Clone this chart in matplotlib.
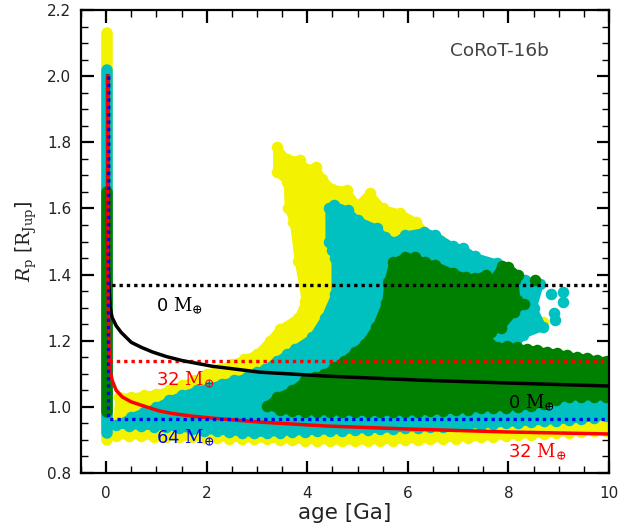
import matplotlib
matplotlib.use("Agg")
import matplotlib.pyplot as plt
from matplotlib.ticker import MultipleLocator

plt.rcParams["mathtext.fontset"] = "dejavuserif"

# **********************************************************************
#       DATA (age [Ga], radius [R_Jup])
# Young planets: vertical strip close to age zero
strip_age = 0.02
yellow_strip = [0.90, 2.13]
cyan_strip = [0.92, 2.02]
green_strip = [0.985, 1.65]

# Lower edge of the clouds
edge_age = [0.2, 0.45, 0.7, 0.95, 1.2, 1.45, 1.7, 1.95,
            2.2, 2.45, 2.7, 2.95, 3.2, 3.45, 3.7, 3.95,
            4.2, 4.45, 4.7, 4.95, 5.2, 5.45, 5.7, 5.95,
            6.2, 6.45, 6.7, 6.95, 7.2, 7.45, 7.7, 7.95,
            8.2, 8.45, 8.7, 8.95, 9.2, 9.45, 9.7, 9.95, 10.2]
yellow_low = [0.912, 0.912, 0.912, 0.910, 0.910, 0.908, 0.908, 0.906,
              0.906, 0.904, 0.904, 0.902, 0.902, 0.900, 0.900, 0.898,
              0.898, 0.896, 0.896, 0.896, 0.896, 0.898, 0.898, 0.900,
              0.900, 0.902, 0.904, 0.904, 0.906, 0.908, 0.910, 0.912,
              0.914, 0.916, 0.918, 0.920, 0.922, 0.924, 0.926, 0.928, 0.930]
cyan_low = [0.945, 0.942, 0.942, 0.940, 0.940, 0.935, 0.932, 0.928,
            0.926, 0.924, 0.922, 0.920, 0.920, 0.922, 0.924, 0.925,
            0.926, 0.927, 0.928, 0.930, 0.931, 0.932, 0.933, 0.935,
            0.936, 0.938, 0.940, 0.943, 0.945, 0.946, 0.948, 0.950,
            0.952, 0.954, 0.956, 0.958, 0.960, 0.963, 0.966, 0.972, 0.975]
green_low = [1.003, 0.990, 0.986, 0.985, 0.985, 0.985, 0.984, 0.984,
             0.983, 0.983, 0.984, 0.984, 0.985, 0.986, 0.988, 0.990,
             0.992, 0.996, 0.997, 0.998, 1.000, 1.002, 1.010, 1.020,
             1.030, 1.030, 1.030, 1.030, 1.030]

# Upper outline of the clouds, going back from 10 Ga to the young side
yellow_age = [10.2, 8.0, 8.0, 7.49, 7.05, 6.63, 6.4, 6.17, 5.84, 5.5, 5.24, 5.0, 4.78, 4.5, 4.3,
              4.18, 4.0, 3.85, 3.6, 3.39, 3.39, 3.6, 3.62, 3.72, 3.82, 3.96, 3.82, 3.45, 3.25,
              3.0, 2.75, 2.5, 2.25, 2.0, 1.75, 1.5, 1.25, 1.0, 0.75, 0.5, 0.25]
yellow_r = [1.05, 1.15, 1.37, 1.435, 1.47, 1.505, 1.52, 1.56, 1.586, 1.60, 1.647, 1.61, 1.655, 1.66, 1.69,
            1.725, 1.72, 1.746, 1.75, 1.786, 1.71, 1.68, 1.60, 1.56, 1.44, 1.32, 1.27, 1.235, 1.20,
            1.16, 1.145, 1.13, 1.115, 1.10, 1.08, 1.065, 1.05, 1.04, 1.035, 1.03, 1.03]
yellow_extra_age = [8.68]
yellow_extra_r = [1.257]

cyan_age = [10.2, 8.0, 8.29, 8.69, 8.5, 8.63, 8.33, 7.77, 7.33, 7.09, 6.9, 6.53, 6.33, 5.95, 5.74,
            5.54, 5.38, 5.0, 4.8, 4.54, 4.43, 4.43, 4.5, 4.55, 4.55, 4.35, 4.1, 3.75, 3.6,
            3.4, 3.15, 3.0, 2.8, 2.55, 2.3, 2.05, 1.8, 1.5, 1.25, 1.0, 0.75, 0.5]
cyan_r = [1.1, 1.15, 1.217, 1.24, 1.3, 1.37, 1.385, 1.435, 1.455, 1.48, 1.485, 1.52, 1.53, 1.52, 1.50,
          1.515, 1.54, 1.565, 1.595, 1.61, 1.60, 1.50, 1.475, 1.45, 1.34, 1.27, 1.21, 1.175, 1.16,
          1.14, 1.115, 1.105, 1.09, 1.08, 1.07, 1.06, 1.05, 1.035, 1.02, 1.00, 0.985, 0.97]
cyan_extra_age = [8.85, 9.08, 9.08, 8.9, 8.92]
cyan_extra_r = [1.341, 1.347, 1.317, 1.284, 1.262]

green_age = [10.2, 9.96, 9.76, 9.56, 9.36, 9.16, 8.96, 8.76, 8.57, 8.37, 8.17, 7.97, 7.77,
             7.57, 7.65, 7.85, 8.11, 8.31, 8.17, 8.13, 8.19, 8.0, 7.87, 7.69, 7.55, 7.33,
             7.15, 6.9, 6.53, 6.34, 6.14, 5.94, 5.7, 5.6, 5.56, 5.36, 5.14, 4.94, 4.74,
             4.54, 4.34, 4.15, 3.95, 3.7, 3.4]
green_r = [1.137, 1.139, 1.142, 1.148, 1.15, 1.157, 1.163, 1.166, 1.172, 1.175, 1.18, 1.184, 1.18,
           1.21, 1.226, 1.238, 1.286, 1.31, 1.323, 1.383, 1.40, 1.423, 1.426, 1.385, 1.40, 1.39,
           1.393, 1.405, 1.43, 1.437, 1.453, 1.453, 1.437, 1.377, 1.315, 1.24, 1.19, 1.166, 1.14,
           1.12, 1.10, 1.09, 1.08, 1.05, 1.03]
green_extra_age = [8.53]
green_extra_r = [1.383]

# Evolution tracks
track0_age = [0.03, 0.03, 0.05, 0.08, 0.12, 0.2, 0.3, 0.5, 0.7, 0.92, 1.2, 1.51,
              2.1, 3.05, 4.38, 6.2, 8.0, 10.0]
track0_r = [2.0, 1.5, 1.38, 1.30, 1.27, 1.245, 1.225, 1.195, 1.18, 1.166, 1.152, 1.14,
            1.123, 1.105, 1.093, 1.081, 1.072, 1.063]
track32_age = [0.03, 0.035, 0.05, 0.08, 0.12, 0.2, 0.32, 0.5, 0.8, 1.05, 1.31, 1.7,
               2.1, 3.05, 4.38, 6.0, 8.0, 10.0]
track32_r = [2.0, 1.4, 1.2, 1.11, 1.08, 1.05, 1.03, 1.015, 1.0, 0.988, 0.98, 0.972,
             0.966, 0.954, 0.942, 0.933, 0.924, 0.918]

# Measured radius levels, drawn dotted from the strip to 10 Ga
level_age = [0.03, 0.03, 10.0]
level_0 = [2.0, 1.367, 1.367]
level_32 = [2.0, 1.139, 1.139]
level_64 = [2.0, 0.963, 0.963]

# **********************************************************************
#       PLOTTING ATTRIBUTES
yellow = "#f3f300"
cyan = "#00c0c0"
green = "#008000"
msize = 69
dotted = (0, (1, 1.2))

fig = plt.figure(figsize=(6.42, 5.29), dpi=100)
ax = fig.add_axes([81 / 642, 56 / 529, 528 / 642, 463 / 529])


def cloud(low_age, low_r, age, r, strip, color, order, x_age=None, x_r=None):
    all_age = list(low_age) + list(age)
    all_r = list(low_r) + list(r)
    ax.fill(all_age, all_r, facecolor=color, edgecolor=color, lw=5.0,
            joinstyle="round", zorder=order)
    ax.scatter(all_age, all_r, s=msize, color=color, lw=0, zorder=order)
    ax.plot([strip_age, strip_age], strip, color=color, lw=8.3,
            solid_capstyle="round", zorder=order)
    if x_age is not None:
        ax.scatter(x_age, x_r, s=msize, color=color, lw=0, zorder=order)


cloud(edge_age, yellow_low, yellow_age, yellow_r, yellow_strip, yellow, 2, yellow_extra_age, yellow_extra_r)
cloud(edge_age, cyan_low, cyan_age, cyan_r, cyan_strip, cyan, 3, cyan_extra_age, cyan_extra_r)
cloud(edge_age[12:], green_low, green_age, green_r, green_strip, green, 4, green_extra_age, green_extra_r)

ax.plot(level_age, level_0, color="k", ls=dotted, lw=2.4, zorder=5)
ax.plot(level_age, level_32, color="r", ls=dotted, lw=2.4, zorder=5)
ax.plot(track0_age, track0_r, color="k", lw=2.5, zorder=7)
ax.plot(track32_age, track32_r, color="r", lw=2.5, zorder=7)
ax.plot(level_age, level_64, color="b", ls=dotted, lw=2.4, zorder=8)

ax.set_xlim(-0.5, 10)
ax.set_ylim(0.8, 2.2)
ax.xaxis.set_major_locator(MultipleLocator(2))
ax.xaxis.set_minor_locator(MultipleLocator(0.5))
ax.yaxis.set_major_locator(MultipleLocator(0.2))
ax.yaxis.set_minor_locator(MultipleLocator(0.05))
ax.tick_params(which="major", direction="in", top=True, right=True,
               length=9, width=1.6, labelsize=11, pad=9, labelcolor="#222222")
ax.tick_params(which="minor", direction="in", top=True, right=True,
               length=5, width=1.0)
ax.tick_params(axis="y", which="major", pad=7)
for s in ax.spines.values():
    s.set_linewidth(1.6)
    s.set_zorder(10)

ax.set_xlabel("age [Ga]", fontsize=15.5, labelpad=2, color="#222222")
ax.set_ylabel(r"$R_{\mathrm{p}}$ [$\mathrm{R}_{\mathrm{Jup}}$]", fontsize=13.5, labelpad=6, color="#222222")

ax.text(6.83, 2.077, "CoRoT-16b", fontsize=13.3, color="#444444", va="center")
ax.text(1.0, 1.305, r"$\mathsf{0}\ \mathrm{M}_{\oplus}$", fontsize=13, color="k", va="center", zorder=9)
ax.text(1.0, 1.08, r"$\mathsf{32}\ \mathrm{M}_{\oplus}$", fontsize=13, color="r", va="center", zorder=9)
ax.text(1.0, 0.905, r"$\mathsf{64}\ \mathrm{M}_{\oplus}$", fontsize=13, color="b", va="center", zorder=9)
ax.text(8.0, 1.012, r"$\mathsf{0}\ \mathrm{M}_{\oplus}$", fontsize=13, color="k", va="center", zorder=9)
ax.text(8.0, 0.865, r"$\mathsf{32}\ \mathrm{M}_{\oplus}$", fontsize=13, color="r", va="center", zorder=9)

fig.savefig("out.png", dpi=100)
